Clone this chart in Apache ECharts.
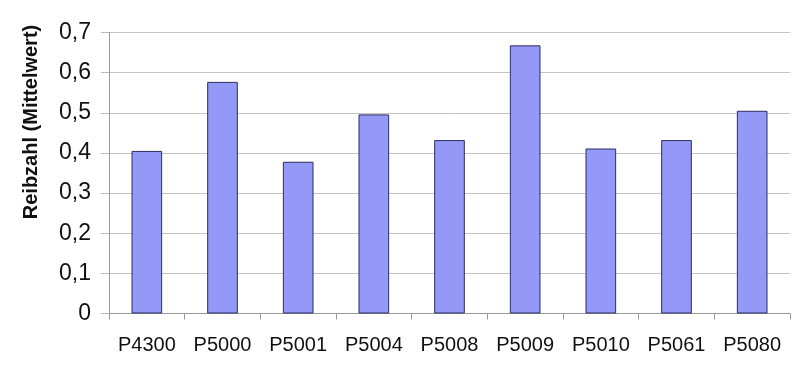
<!DOCTYPE html>
<html>
<head>
<meta charset="utf-8">
<script src="https://cdn.jsdelivr.net/npm/echarts@6/dist/echarts.min.js"></script>
<style>html,body{margin:0;padding:0;background:#fff;}#c{width:800px;height:367px;}</style>
</head>
<body>
<div id="c"></div>
<script>
var categories = ['P4300','P5000','P5001','P5004','P5008','P5009','P5010','P5061','P5080'];
var values = [0.405, 0.577, 0.378, 0.496, 0.432, 0.668, 0.411, 0.432, 0.505];
var yTitle = 'Reibzahl (Mittelwert)';

var chart = echarts.init(document.getElementById('c'), null, {renderer:'canvas'});
chart.setOption({
  animation: false,
  backgroundColor: '#fff',
  grid: {left: 109, right: 10, top: 32.5, bottom: 53.5},
  xAxis: {
    type: 'category',
    data: categories,
    boundaryGap: true,
    axisLine: {lineStyle: {color: '#999', width: 1}},
    axisTick: {show: true, length: 6, lineStyle: {color: '#999'}},
    axisLabel: {color: '#111', fontFamily: 'Liberation Sans, Arial, sans-serif', fontSize: 20, margin: 22}
  },
  yAxis: {
    type: 'value',
    min: 0, max: 0.7, interval: 0.1,
    axisLine: {show: true, lineStyle: {color: '#999', width: 1}},
    axisTick: {show: true, length: 8, lineStyle: {color: '#bbb'}},
    splitLine: {show: true, lineStyle: {color: '#c4c4c4', width: 1}},
    axisLabel: {
      color: '#111', fontFamily: 'Liberation Sans, Arial, sans-serif', fontSize: 23, margin: 18,
      formatter: function (v) { return (Math.round(v * 10) / 10).toString().replace('.', ','); }
    }
  },
  graphic: [{
    type: 'text',
    x: 31, y: 122,
    rotation: Math.PI / 2,
    style: {
      text: yTitle,
      font: 'bold 20px "Liberation Sans", Arial, sans-serif',
      fill: '#111',
      textAlign: 'center',
      textVerticalAlign: 'middle'
    }
  }],
  series: [{
    type: 'bar',
    data: values,
    barWidth: '40.5%',
    itemStyle: {color: '#9499f7', borderColor: '#2a2d5e', borderWidth: 1}
  }]
});
</script>
</body>
</html>
